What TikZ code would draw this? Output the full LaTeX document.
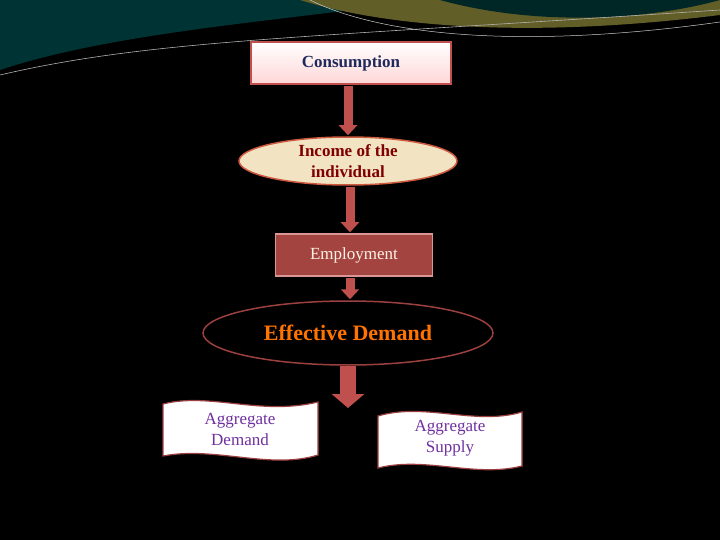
\documentclass[tikz,border=0pt]{standalone}
\usepackage{fontspec}
\setmainfont{Liberation Serif}
\usetikzlibrary{shapes.geometric,arrows.meta}
\definecolor{brd}{HTML}{C0504D}
\definecolor{parch}{HTML}{F2E3C3}
\definecolor{purp}{HTML}{7030A0}
\definecolor{navy}{HTML}{1F2A5C}
\tikzset{
  fatarrow/.style={draw=brd, line width=9pt, -{Triangle[width=18pt,length=10pt]}, shorten <=1pt, shorten >=1pt},
  wavebox/.style={draw=brd!80!black, fill=white, line width=1.2pt},
  wtext/.style={text=purp, font=\fontsize{17}{21}\selectfont, align=center}
}
\begin{document}
\begin{tikzpicture}[x=1pt,y=-1pt]
\fill[black] (0,0) rectangle (720,540);
\useasboundingbox (0,0) rectangle (720,540);
% top decoration
\fill[teal!40!black] (0,70) .. controls (120,30) and (300,20) .. (420,0) -- (0,0) -- cycle;
\fill[olive!60!black] (300,0) .. controls (380,25) and (520,40) .. (720,15) -- (720,0) -- cycle;
\fill[teal!30!black] (440,0) .. controls (530,25) and (640,22) .. (720,0) -- cycle;
\draw[gray!60, line width=0.6pt] (0,75) .. controls (150,40) and (300,38) .. (720,10);
\draw[gray!40, line width=0.5pt] (310,0) .. controls (380,35) and (520,50) .. (720,22);
% nodes
\node[draw=brd, line width=1.5pt, top color=white, bottom color=pink!80!red!40, minimum width=200pt, minimum height=42pt, font=\bfseries\fontsize{17}{20}\selectfont, text=navy] (cons) at (351,63) {Consumption};
\node[ellipse, draw=brd!80!orange, line width=1.5pt, fill=parch, minimum width=218pt, minimum height=48pt, align=center, inner sep=0pt, font=\bfseries\fontsize{17}{21}\selectfont, text=red!50!black] (inc) at (348,161) {Income of the\\individual};
\node[draw=brd!60!white, line width=1.5pt, fill=brd!85!black, minimum width=157pt, minimum height=42pt, text=white!90!orange, font=\fontsize{17}{20}\selectfont] (emp) at (354,255) {Employment};
\node[ellipse, draw=brd!80!black, line width=1.5pt, fill=black, minimum width=290pt, minimum height=64pt, text=orange!90!red, font=\bfseries\fontsize{22}{24}\selectfont] (eff) at (348,333) {Effective Demand};
% wave boxes
\draw[wavebox] (163,404) .. controls (210,392) and (260,416) .. (318,402) -- (318,455) .. controls (270,470) and (215,446) .. (163,456) -- cycle;
\node[wtext] (ad) at (240,429) {Aggregate\\Demand};
\draw[wavebox] (378,416) .. controls (425,402) and (475,426) .. (522,412) -- (522,466) .. controls (475,478) and (425,456) .. (378,468) -- cycle;
\node[wtext] (as) at (450,438) {Aggregate\\Supply};
\coordinate (tip) at (348,408);
% arrows
\draw[fatarrow] (cons.south -| 348,0) -- (inc.north);
\draw[fatarrow] (inc.south -| 350,0) -- (emp.north -| 350,0);
\draw[fatarrow] (emp.south -| 350,0) -- (eff.north -| 350,0);
\draw[draw=brd, line width=16pt, -{Triangle[width=32pt,length=14pt]}] (eff.south) -- (tip);
\end{tikzpicture}
\end{document}
